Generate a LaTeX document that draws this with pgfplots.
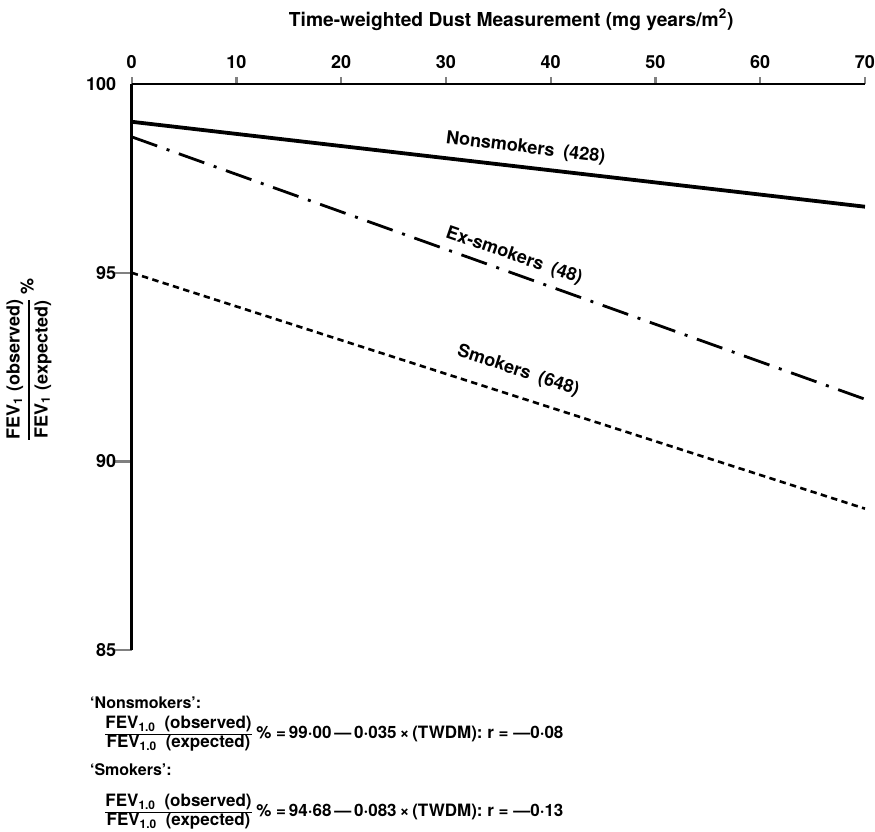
\documentclass[border=0pt]{standalone}
\usepackage{amsmath}
\usepackage{fontspec}
\setmainfont{TeX Gyre Heros}
\usepackage{pgfplots}
\pgfplotsset{compat=1.18}
\usepackage{pgfplotstable}

% fitted lines
\pgfplotstableread{
x y
0 99.00
70 96.75
}\nonsmokers
\pgfplotstableread{
x y
0 98.60
70 91.65
}\exsmokers
\pgfplotstableread{
x y
0 95.00
70 88.75
}\smokers

\newcommand{\lbl}{\bfseries\fontsize{9}{10}\selectfont}
\newcommand{\eqf}{\bfseries\fontsize{8.5}{10.5}\selectfont}
\setlength{\arrayrulewidth}{0.8pt}
\newcommand{\fev}[2]{{\renewcommand{\arraystretch}{0.8}\begin{tabular}{@{}c@{}}#1\\\hline #2\end{tabular}}}

\begin{document}
\begin{tikzpicture}
\begin{axis}[
    name=ax,
    scale only axis,
    width=366.5pt, height=283pt,
    xmin=0, xmax=70, ymin=85, ymax=100,
    axis x line=top, axis y line=left,
    axis line style={-, line width=1.4pt},
    xtick={0,10,...,70},
    ytick={85,90,95},
    extra y ticks={100},
    extra y tick style={ytick style={draw=none}},
    tick align=outside,
    xtick style={line width=1.2pt, /pgfplots/major tick length=3.5pt},
    ytick style={line width=1.2pt, /pgfplots/major tick length=9pt},
    tick label style={font=\lbl},
    /pgf/number format/assume math mode=true,
    clip=false,
]
\addplot[black, line width=1.9pt] table {\nonsmokers};
\addplot[black, line width=1.4pt, dash pattern=on 13.5pt off 5pt on 1.5pt off 5pt] table {\exsmokers};
\addplot[black, line width=1.3pt, dash pattern=on 3.2pt off 2.2pt] table {\smokers};

\node[rotate=-7, font=\lbl] at (axis cs:37.6,98.3) {Nonsmokers\enspace(428)};
\node[rotate=-19, font=\lbl] at (axis cs:36.5,95.44) {Ex-smokers\enspace(48)};
\node[rotate=-18, font=\lbl] at (axis cs:36.9,92.4) {Smokers\enspace(648)};
\end{axis}

\node[anchor=base, font=\bfseries\fontsize{9.6}{11}\selectfont] at ([shift={(189.7pt,29pt)}]ax.north west)
    {Time-weighted Dust Measurement (mg years/m\textsuperscript{2})};

\node[rotate=90, font=\lbl] at ([shift={(-51.3pt,145pt)}]ax.south west)
    {$\genfrac{}{}{0.8pt}{0}{\text{FEV\textsubscript{1} (observed)}}{\text{FEV\textsubscript{1} (expected)}}$\,\%};

\node[anchor=base west, font=\bfseries\fontsize{8}{9}\selectfont] at ([shift={(-24.35pt,-29pt)}]ax.south west) {‘Nonsmokers’:};
\node[anchor=base west, font=\eqf, inner sep=0pt] at ([shift={(-13.35pt,-44.1pt)}]ax.south west)
    {\fev{FEV\textsubscript{1.0}\enspace(observed)}{FEV\textsubscript{1.0}\enspace(expected)}\ \%\ =\,99·00\,—\,0·035\,×\,(TWDM):\ r\ =\ —0·08};
\node[anchor=base west, font=\bfseries\fontsize{8}{9}\selectfont] at ([shift={(-24.35pt,-62.5pt)}]ax.south west) {‘Smokers’:};
\node[anchor=base west, font=\eqf, inner sep=0pt] at ([shift={(-13.35pt,-83.1pt)}]ax.south west)
    {\fev{FEV\textsubscript{1.0}\enspace(observed)}{FEV\textsubscript{1.0}\enspace(expected)}\ \%\ =\,94·68\,—\,0·083\,×\,(TWDM):\ r\ =\ —0·13};

\pgfresetboundingbox
\path ([shift={(-65.85pt,-90.5pt)}]ax.south west) rectangle ([shift={(5pt,42pt)}]ax.north east);
\end{tikzpicture}
\end{document}
